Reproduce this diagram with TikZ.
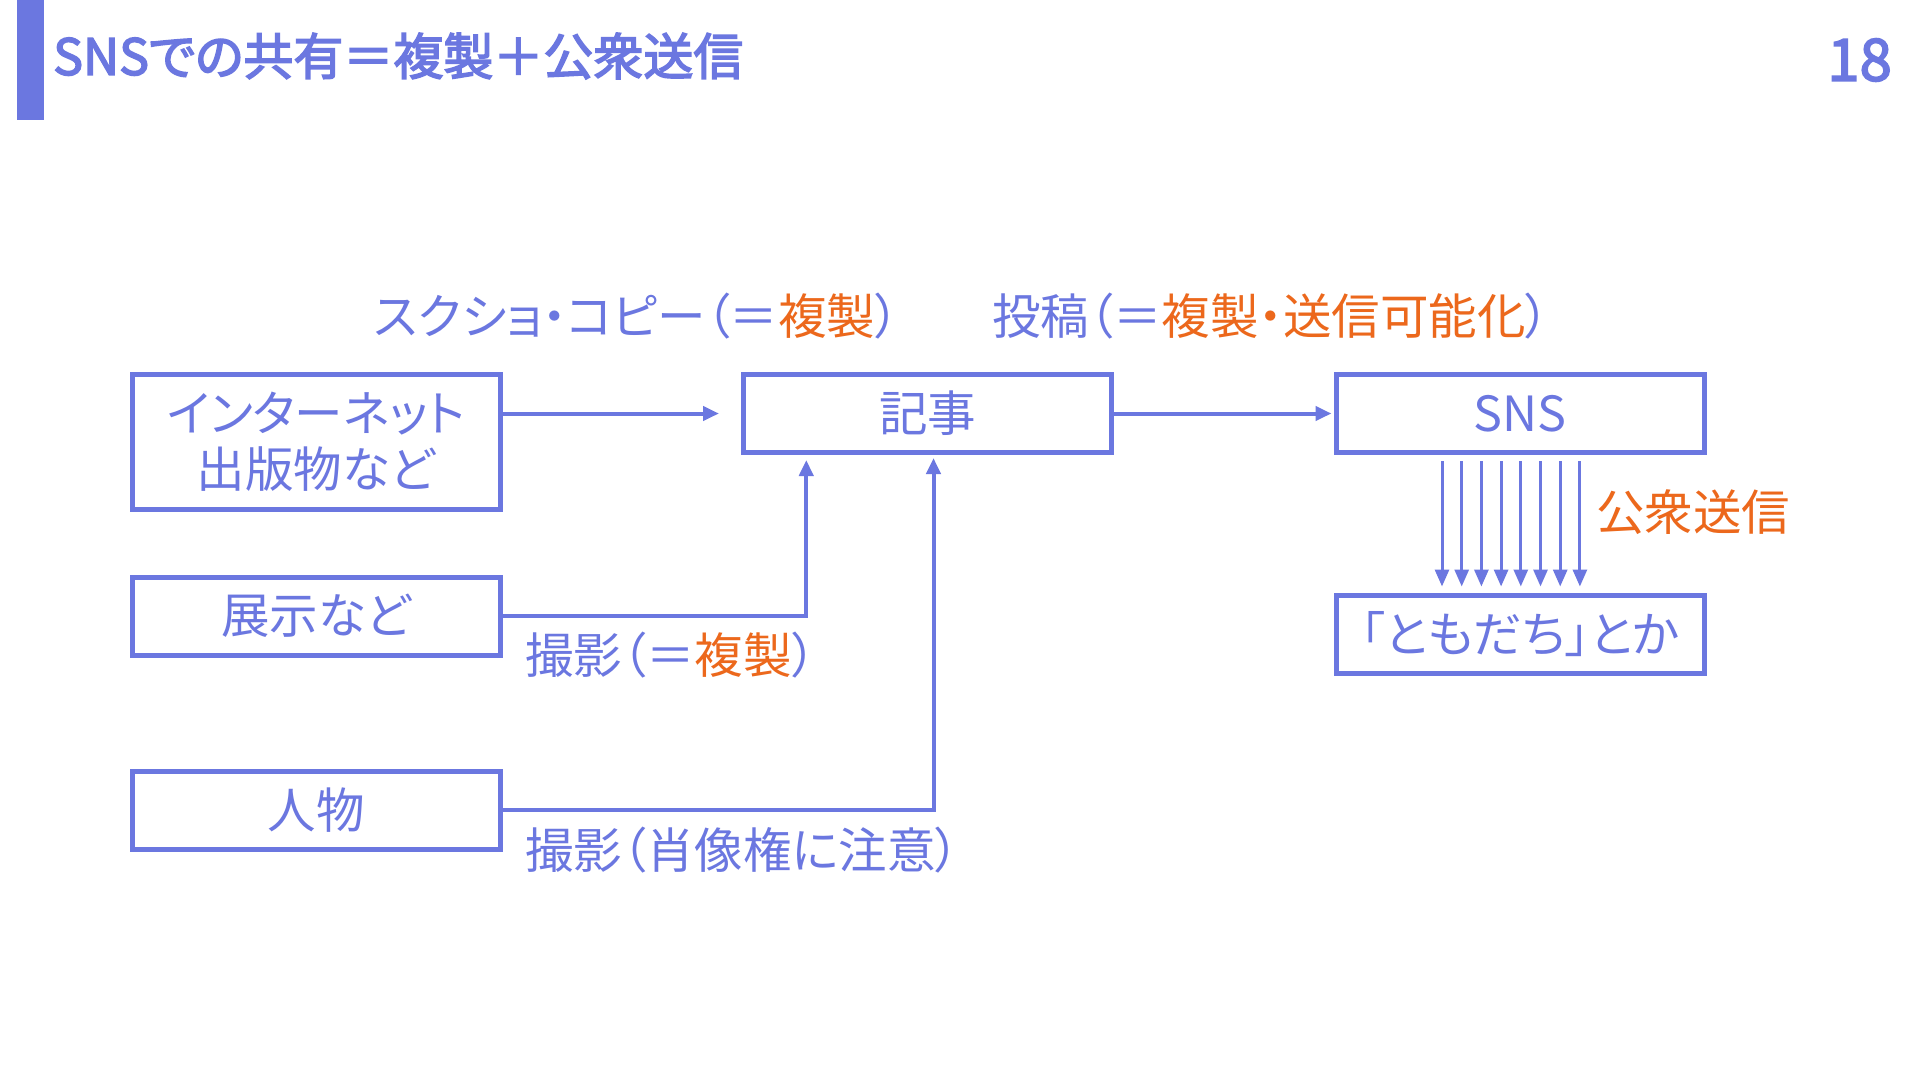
\documentclass[tikz,border=0pt]{standalone}
\usepackage{fontspec}
\setmainfont{Noto Sans CJK JP}[RawFeature=+palt]
\newfontfamily\headfont{Noto Sans CJK JP}[RawFeature=+palt, FakeBold=3]
\usetikzlibrary{arrows.meta,calc}
\definecolor{ablue}{RGB}{107,119,224}
\definecolor{aorange}{RGB}{236,104,28}
\begin{document}
\begin{tikzpicture}[x=1pt,y=-1pt,
  box/.style={draw=ablue, line width=5pt, minimum width=368pt, minimum height=78pt, inner sep=0pt,
    font=\fontsize{48.5}{56}\selectfont, text=ablue, align=center},
  conn/.style={draw=ablue, line width=4pt, -{Triangle[length=16pt,width=14pt]}},
  fan/.style={draw=ablue, line width=3pt, -{Triangle[length=17pt,width=14pt]}},
  lbl/.style={inner sep=0pt, font=\fontsize{48.5}{56}\selectfont, text=ablue}]
\fill[white] (0,0) rectangle (1920,1080);
\useasboundingbox (0,0) rectangle (1920,1080);
% header
\fill[ablue] (17,0) rectangle (44,120);
\node[inner sep=0pt, anchor=west, text=ablue, font=\fontsize{50}{56}\headfont] (title) at (53,56) {SNSでの共有＝複製＋公衆送信};
\node[inner sep=0pt, anchor=east, text=ablue, font=\fontsize{58}{64}\headfont] (page) at (1892,60) {18};
% boxes
\node[box, minimum height=135pt] (src) at (316,442) {インターネット\\出版物など};
\node[box] (kiji) at (927.5,413.5) {記事};
\node[box] (sns) at (1520,413.5) {SNS};
\node[box] (tomo) at (1520,634) {「ともだち」とか};
\node[box] (tenji) at (316,616) {展示など};
\node[box] (jin) at (316,810) {人物};
% connectors
\draw[conn, shorten >=22pt] (src.east |- kiji.west) -- (kiji.west);
\draw[conn, shorten >=2pt] (kiji.east) -- (sns.west);
\draw[conn, shorten >=5pt] (tenji.east) -| ($(kiji.south west)!0.175!(kiji.south east)$);
\draw[conn, shorten >=3pt] (jin.east) -| ([xshift=6pt]kiji.south);
\foreach \i in {0,...,7}{
  \pgfmathsetmacro\dx{-78+19.7*\i}
  \draw[fan, shorten <=6pt, shorten >=6pt] ([xshift=\dx pt]sns.south) -- ([xshift=\dx pt]tomo.north);
}
% labels
\node[lbl] (l1) at (637,316) {スクショ・コピー（＝\textcolor{aorange}{複製}）};
\node[lbl] (l2) at (1271,316) {投稿（＝\textcolor{aorange}{複製・送信可能化}）};
\node[lbl, anchor=west, text=aorange] (l3) at (1596,512) {公衆送信};
\node[lbl, anchor=west] (l4) at (525,655) {撮影（＝\textcolor{aorange}{複製}）};
\node[lbl, anchor=west] (l5) at (525,850) {撮影（肖像権に注意）};
\end{tikzpicture}
\end{document}
